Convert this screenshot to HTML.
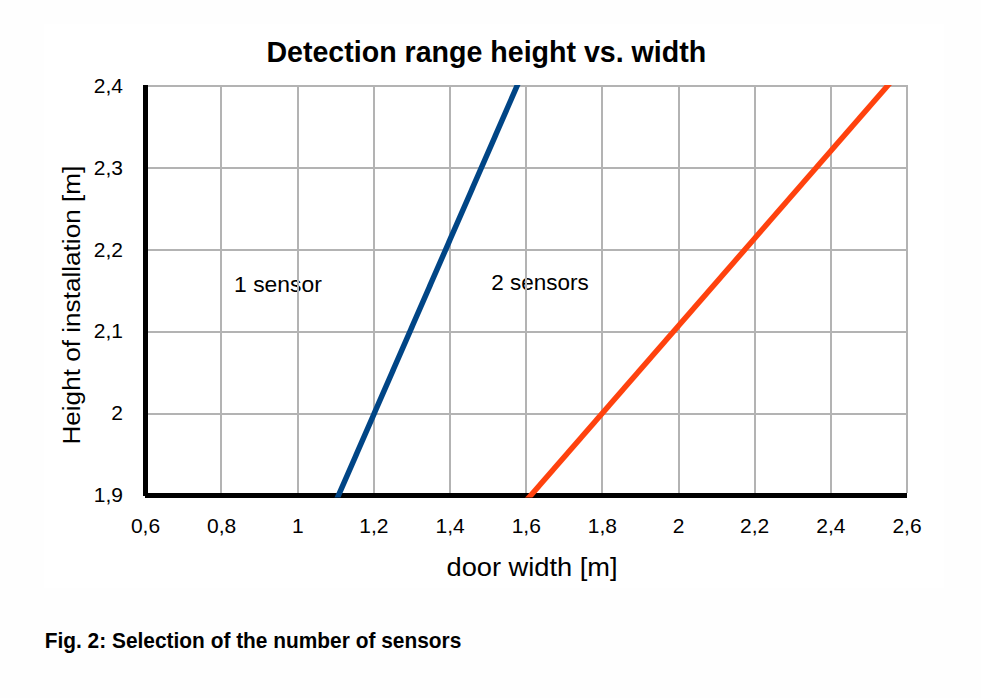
<!DOCTYPE html>
<html><head><meta charset="utf-8">
<style>
html,body{margin:0;padding:0;width:981px;height:698px;overflow:hidden;background:#fefefe;}
svg{display:block;}
text{font-family:"Liberation Sans",sans-serif;fill:#000;}
</style></head>
<body>
<svg width="981" height="698" viewBox="0 0 981 698">
<rect x="0" y="0" width="981" height="698" fill="#fefefe"/>
<rect x="44" y="24" width="900" height="564" fill="#ffffff"/>
<defs><clipPath id="pc"><rect x="140" y="85" width="780" height="412.6"/></clipPath></defs>
<text x="234.1" y="291.9" font-size="22" textLength="87.7" lengthAdjust="spacingAndGlyphs">1 sensor</text>
<text x="491.2" y="289.5" font-size="22" textLength="97.5" lengthAdjust="spacingAndGlyphs">2 sensors</text>
<g fill="#b3b3b3" shape-rendering="crispEdges">
<rect x="148" y="85" width="760" height="2"/>
<rect x="148" y="167" width="760" height="2"/>
<rect x="148" y="249" width="760" height="2"/>
<rect x="148" y="331" width="760" height="2"/>
<rect x="148" y="413" width="760" height="2"/>
<rect x="220" y="85" width="2" height="408"/>
<rect x="297" y="85" width="2" height="408"/>
<rect x="373" y="85" width="2" height="408"/>
<rect x="449" y="85" width="2" height="408"/>
<rect x="525" y="85" width="2" height="408"/>
<rect x="601" y="85" width="2" height="408"/>
<rect x="678" y="85" width="2" height="408"/>
<rect x="754" y="85" width="2" height="408"/>
<rect x="830" y="85" width="2" height="408"/>
<rect x="906" y="85" width="2" height="408"/>
</g>
<g fill="#000" shape-rendering="crispEdges">
<rect x="143" y="85" width="5" height="411"/>
<rect x="145" y="493" width="762" height="5"/>
</g>
<g clip-path="url(#pc)" stroke-width="5.5" fill="none">
<line x1="519.6" y1="80" x2="334.3" y2="505" stroke="#004586"/>
<line x1="892.6" y1="80" x2="522.4" y2="505" stroke="#ff420e"/>
</g>
<text x="266.4" y="61.8" font-size="29" font-weight="bold" textLength="439.8" lengthAdjust="spacingAndGlyphs">Detection range height vs. width</text>
<g font-size="21" text-anchor="end">
<text x="123" y="92.7">2,4</text>
<text x="123" y="174.6">2,3</text>
<text x="123" y="256.5">2,2</text>
<text x="123" y="338.4">2,1</text>
<text x="123" y="420.3">2</text>
<text x="123" y="502.2">1,9</text>
</g>
<g font-size="21" text-anchor="middle">
<text x="145.5" y="532.5">0,6</text>
<text x="221.65" y="532.5">0,8</text>
<text x="297.8" y="532.5">1</text>
<text x="373.95" y="532.5">1,2</text>
<text x="450.1" y="532.5">1,4</text>
<text x="526.25" y="532.5">1,6</text>
<text x="602.4" y="532.5">1,8</text>
<text x="678.55" y="532.5">2</text>
<text x="754.7" y="532.5">2,2</text>
<text x="830.85" y="532.5">2,4</text>
<text x="907" y="532.5">2,6</text>
</g>
<text x="446.5" y="575.6" font-size="25" textLength="171.1" lengthAdjust="spacingAndGlyphs">door width [m]</text>
<text transform="translate(80,444.6) rotate(-90)" x="0" y="0" font-size="24.4" textLength="278.9" lengthAdjust="spacingAndGlyphs">Height of installation [m]</text>
<text x="44.7" y="648" font-size="22.8" font-weight="bold" textLength="416.6" lengthAdjust="spacingAndGlyphs">Fig. 2: Selection of the number of sensors</text>
</svg>
</body></html>
